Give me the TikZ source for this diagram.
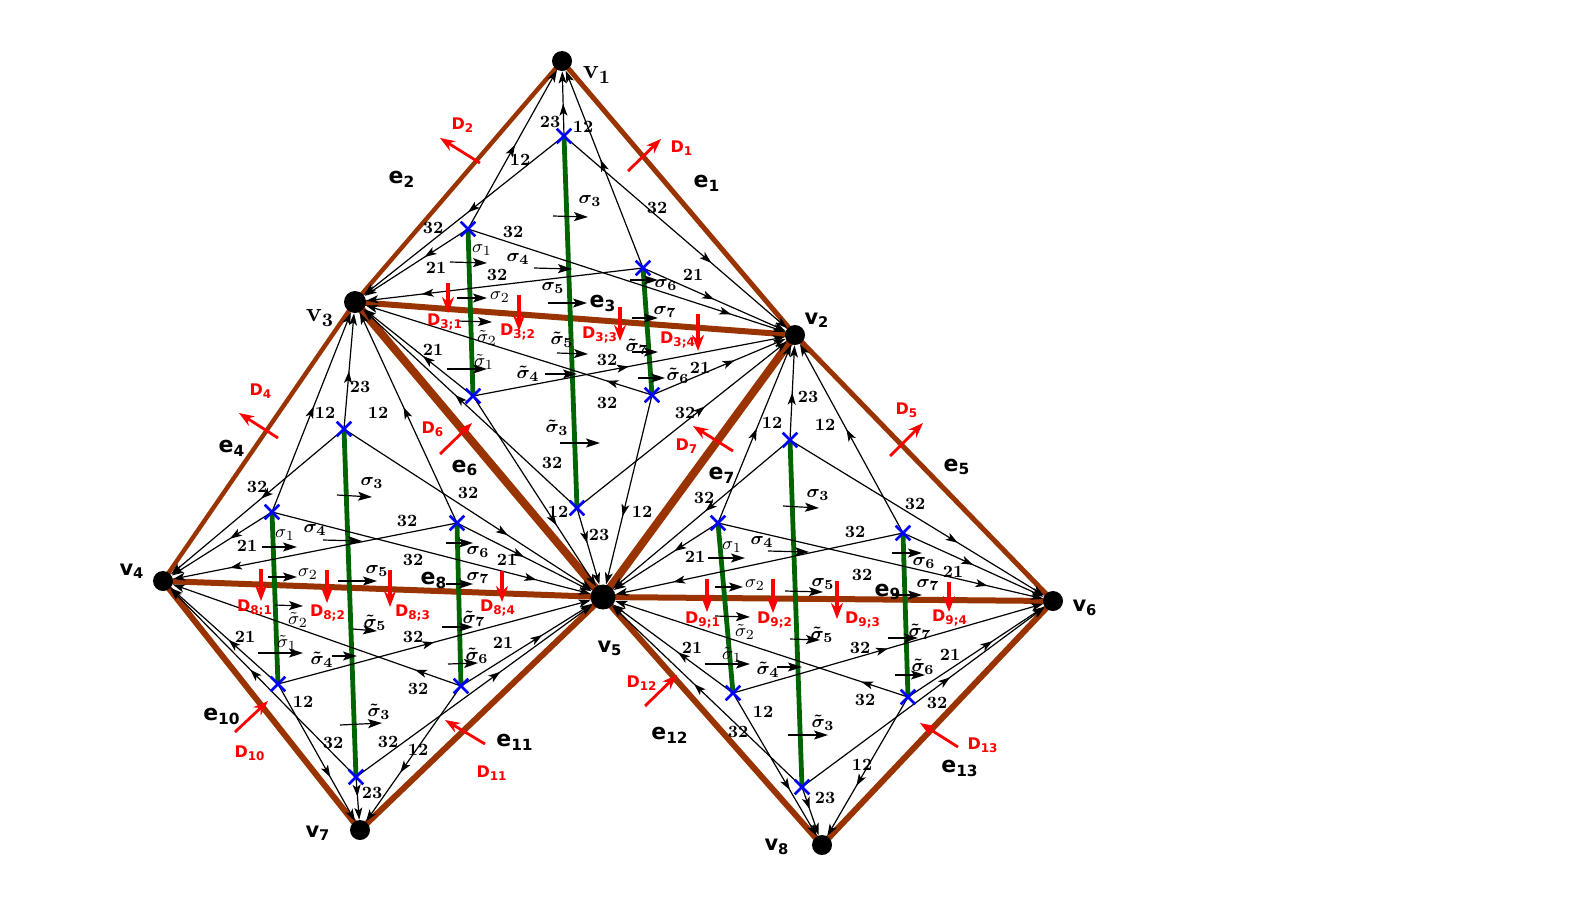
\documentclass[tikz,border=0pt]{standalone}
\usepackage{amsmath}
\usepackage{fontspec}
\setsansfont{DejaVu Sans}
\usetikzlibrary{arrows.meta,decorations.markings,shapes.misc}
\definecolor{brn}{RGB}{153,51,0}
\definecolor{grn}{RGB}{0,100,0}
\pgfdeclarelayer{bg}
\pgfdeclarelayer{mid}
\pgfsetlayers{bg,mid,main}
\tikzset{
 conn/.style={line width=0.6pt, -{Stealth[length=6pt,width=4pt,inset=1.5pt]},
   postaction={decorate},
   decoration={markings, mark=at position #1 with {\arrow{Stealth[length=6pt,width=4pt,inset=1.5pt]}}}},
 conn/.default=0.5,
 edg/.style={draw=brn, line width=#1},
 grl/.style={draw=grn, line width=2.4pt},
 xm/.style={draw=blue, cross out, line width=1.3pt, minimum size=6pt, inner sep=0pt},
 vtx/.style={circle, fill=black, inner sep=0pt, minimum size=#1},
 vtx/.default=10pt,
 num/.style={font=\fontsize{8.6}{9}\selectfont\bfseries, inner sep=0pt},
 sg/.style={font=\fontsize{9.5}{10}\selectfont, inner sep=0pt},
 sga/.style={line width=0.6pt, -{Stealth[length=7pt,width=4.5pt,inset=1.5pt]}},
 elab/.style={font=\fontsize{11}{12}\selectfont\sffamily\bfseries, inner sep=0pt},
 dlab/.style={font=\fontsize{8}{9}\selectfont\sffamily\bfseries, text=red, inner sep=0pt},
 darr/.style={draw=red, line width=1.4pt, -{Stealth[length=7.5pt,width=5.5pt]}},
 darrb/.style={draw=red, line width=1.7pt, -{Stealth[length=8pt,width=6pt]}},
 vlab/.style={font=\fontsize{13.5}{15}\selectfont\bfseries, inner sep=0pt},
 vlabs/.style={font=\fontsize{10.5}{12}\selectfont\sffamily\bfseries, inner sep=0pt},
}
\newcommand\kite[5]{%
 \draw[conn=0.5] (#1t) -- (#2);
 \draw[conn=0.48] (#1t) -- (#3);
 \draw[conn=0.66] (#1t) -- (#4);
 \draw[conn=0.53] (#1l) -- (#2);
 \draw[conn=0.42] (#1l) -- (#3);
 \draw[conn=0.83] (#1l) -- (#4);
 \draw[conn=0.55] (#1r) -- (#2);
 \draw[conn=0.5] (#1r) -- (#4);
 \draw[conn=0.8] (#1r) -- (#3);
 \draw[conn=0.46] (#1bl) -- (#3);
 \draw[conn=0.5] (#1bl) -- (#4);
 \draw[conn=0.68] (#1bl) -- (#5);
 \draw[conn=0.62] (#1br) -- (#4);
 \draw[conn=0.16] (#1br) -- (#3);
 \draw[conn=0.64] (#1br) -- (#5);
 \draw[conn=0.46] (#1b) -- (#5);
 \draw[conn=0.57] (#1b) -- (#3);
 \draw[conn=0.61] (#1b) -- (#4);
}
\begin{document}
\begin{tikzpicture}[x=0.5pt,y=-0.5pt]
\useasboundingbox (0,0) rectangle (1590,906);
% vertices
\node[vtx] (v1) at (562,61) {};
\node[vtx] (v2) at (795,335) {};
\node[vtx=11pt] (v3) at (355,302) {};
\node[vtx] (v4) at (163,581) {};
\node[vtx=12.5pt] (v5) at (603,597) {};
\node[vtx] (v6) at (1053,601) {};
\node[vtx] (v7) at (360,830) {};
\node[vtx] (v8) at (822,845) {};
% crosses (top kite)
\coordinate (Tt) at (564,136); \coordinate (Tl) at (468,229); \coordinate (Tr) at (643,268);
\coordinate (Tbl) at (473,396); \coordinate (Tbr) at (652,395); \coordinate (Tb) at (577,508);
% left kite
\coordinate (Lt) at (344,429); \coordinate (Ll) at (272,512); \coordinate (Lr) at (457,523);
\coordinate (Lbl) at (278,684); \coordinate (Lbr) at (461,686); \coordinate (Lb) at (356,777);
% right kite
\coordinate (Rt) at (790,440); \coordinate (Rl) at (718,523); \coordinate (Rr) at (903,533);
\coordinate (Rbl) at (733,693); \coordinate (Rbr) at (908,697); \coordinate (Rb) at (802,787);

\begin{pgfonlayer}{bg}
\draw[edg=2.5pt] (v1.center) -- (v2.center);
\draw[edg=2.2pt] (v1.center) -- (v3.center);
\draw[edg=3pt] (v3.center) -- (v2.center);
\draw[edg=2.2pt] (v3.center) -- (v4.center);
\draw[edg=2.5pt] (v2.center) -- (v6.center);
\draw[edg=4pt] (v3.center) -- (v5.center);
\draw[edg=4pt] (v2.center) -- (v5.center);
\draw[edg=3pt] (v4.center) -- (v5.center);
\draw[edg=3pt] (v5.center) -- (v6.center);
\draw[edg=3pt] (v4.center) -- (v7.center);
\draw[edg=3pt] (v7.center) -- (v5.center);
\draw[edg=3pt] (v5.center) -- (v8.center);
\draw[edg=3pt] (v8.center) -- (v6.center);
\foreach \p in {T,L,R}{
  \draw[grl] (\p l) -- (\p bl);
  \draw[grl] (\p t) -- (\p b);
  \draw[grl] (\p r) -- (\p br);
}
\end{pgfonlayer}

\begin{pgfonlayer}{mid}
\kite{T}{v1}{v3}{v2}{v5}
\kite{L}{v3}{v4}{v5}{v7}
\kite{R}{v2}{v5}{v6}{v8}
% sigma arrows
\foreach \a/\b/\c/\d in {553/216/588/217, 450/262/487/263, 534/268/572/269, 630/280/658/280, 457/298/487/298, 548/303/587/303, 632/318/658/318, 457/321/492/322, 447/369/487/369, 557/353/588/354, 632/352/658/352, 545/374/577/374, 638/378/665/378, 560/443/600/443,
 337/495/372/497, 262/547/297/547, 323/540/362/541, 446/543/473/543, 268/577/297/577, 338/581/377/581, 446/584/473/584, 275/605/303/606, 353/629/377/631, 442/627/473/627, 258/653/303/653, 332/656/357/656, 448/664/478/663, 340/725/382/723,
 783/506/819/508, 708/558/745/558, 768/551/809/552, 892/553/922/553, 715/587/743/587, 785/591/823/592, 892/595/922/595, 715/616/750/617, 790/639/820/640, 888/638/918/638, 705/664/750/664, 777/667/802/667, 895/675/925/675, 788/735/828/735}
  \draw[sga] (\a,\b) -- (\c,\d);
% red D arrows on outer edges
\foreach \a/\b/\c/\d in {628/171/661/139, 480/163/440/138, 278/438/239/413, 890/456/923/423, 440/454/472/423, 733/451/693/426, 235/732/268/701, 485/744/445/720, 645/706/677/675, 958/747/920/723}
  \draw[darr] (\a,\b) -- (\c,\d);
% red D arrows on the inner diagonals
\foreach \a/\b/\c/\d in {448/283/448/313, 519/295/519/331, 620/307/620/341, 698/314/698/351,
 261/569/261/601, 327/570/327/603, 390/570/390/607, 502/571/502/602,
 707/579/707/612, 773/579/773/613, 837/581/837/619, 949/582/949/612}
  \draw[darrb] (\a,\b) -- (\c,\d);
\end{pgfonlayer}

% crosses
\foreach \p in {T,L,R}{
  \foreach \s in {t,l,r,bl,br,b}
    \node[xm] (x\p\s) at (\p\s) {};
}

% number labels
\foreach \x/\y/\t [count=\i] in {550/122/23, 583/127/12, 520/160/12, 433/228/32, 657/208/32, 436/268/21, 513/232/32, 693/275/21, 497/275/32, 433/350/21, 607/360/32, 700/368/21, 607/403/32, 552/463/32, 685/413/32, 558/512/12, 642/512/12, 599/535/23,
 360/387/23, 325/413/12, 378/413/12, 257/487/32, 468/493/32, 247/546/21, 407/521/32, 507/560/21, 413/560/32, 245/637/21, 413/637/32, 503/643/21, 418/689/32, 303/702/12, 333/743/32, 388/742/32, 418/750/12, 372/793/23,
 808/397/23, 772/423/12, 825/425/12, 704/498/32, 915/504/32, 695/557/21, 855/532/32, 953/572/21, 862/575/32, 692/648/21, 860/648/32, 950/655/21, 865/700/32, 763/712/12, 937/703/32, 738/732/32, 862/765/12, 825/798/23}
  \node[num] (n\i) at (\x,\y) {\t};

% sigma labels (thin)
\foreach \x/\y/\t [count=\i] in {482/250/\sigma_1, 500/297/\sigma_2, 487/338/\tilde\sigma_2, 484/362/\tilde\sigma_1,
 285/535/\sigma_1, 308/574/\sigma_2, 298/620/\tilde\sigma_2, 287/643/\tilde\sigma_1,
 732/547/\sigma_1, 755/585/\sigma_2, 745/632/\tilde\sigma_2, 732/655/\tilde\sigma_1}
  \node[sg] (st\i) at (\x,\y) {$\t$};
% sigma labels (bold)
\foreach \x/\y/\t [count=\i] in {590/201/\sigma_3, 518/259/\sigma_4, 666/285/\sigma_6, 553/288/\sigma_5, 665/312/\sigma_7, 562/340/\tilde\sigma_5, 637/347/\tilde\sigma_7, 528/374/\tilde\sigma_4, 678/376/\tilde\sigma_6, 557/428/\tilde\sigma_3,
 372/483/\sigma_3, 315/530/\sigma_4, 478/552/\sigma_6, 377/571/\sigma_5, 478/578/\sigma_7, 375/623/\tilde\sigma_5, 474/619/\tilde\sigma_7, 322/660/\tilde\sigma_4, 477/656/\tilde\sigma_6, 379/712/\tilde\sigma_3,
 818/495/\sigma_3, 762/542/\sigma_4, 924/563/\sigma_6, 823/584/\sigma_5, 928/585/\sigma_7, 822/635/\tilde\sigma_5, 920/632/\tilde\sigma_7, 768/670/\tilde\sigma_4, 923/667/\tilde\sigma_6, 823/723/\tilde\sigma_3}
  \node[sg] (sb\i) at (\x,\y) {$\boldsymbol{\t}$};

% edge labels
\foreach \x/\y/\t in {707/183/1, 402/179/2, 603/303/3, 232/448/4, 957/467/5, 465/468/6, 722/475/7, 434/580/8, 888/592/9, 222/716/10, 515/742/11, 670/735/12, 960/768/13}
  \node[elab] (e\t) at (\x,\y) {e\textsubscript{\t}};

% D labels
\foreach \x/\y/\t [count=\i] in {682/148/1, 463/125/2, 261/391/4, 907/410/5, 433/429/6, 687/446/7, 250/753/10, 492/773/11, 642/683/12, 983/745/13,
 445/322/{3;1}, 518/332/{3;2}, 600/335/{3;3}, 678/340/{3;4},
 255/608/{8;1}, 328/613/{8;2}, 413/613/{8;3}, 498/608/{8;4},
 703/620/{9;1}, 775/620/{9;2}, 863/620/{9;3}, 950/618/{9;4}}
  \node[dlab] (d\i) at (\x,\y) {D\textsubscript{\t}};

% vertex labels
\node[vlab] (lv1) at (597,75) {v\textsubscript{1}};
\node[vlabs] (lv2) at (817,320) {v\textsubscript{2}};
\node[vlab] (lv3) at (320,318) {v\textsubscript{3}};
\node[vlabs] (lv4) at (132,571) {v\textsubscript{4}};
\node[vlabs] (lv5) at (610,648) {v\textsubscript{5}};
\node[vlabs] (lv6) at (1085,608) {v\textsubscript{6}};
\node[vlabs] (lv7) at (318,833) {v\textsubscript{7}};
\node[vlabs] (lv8) at (777,847) {v\textsubscript{8}};
\end{tikzpicture}
\end{document}
